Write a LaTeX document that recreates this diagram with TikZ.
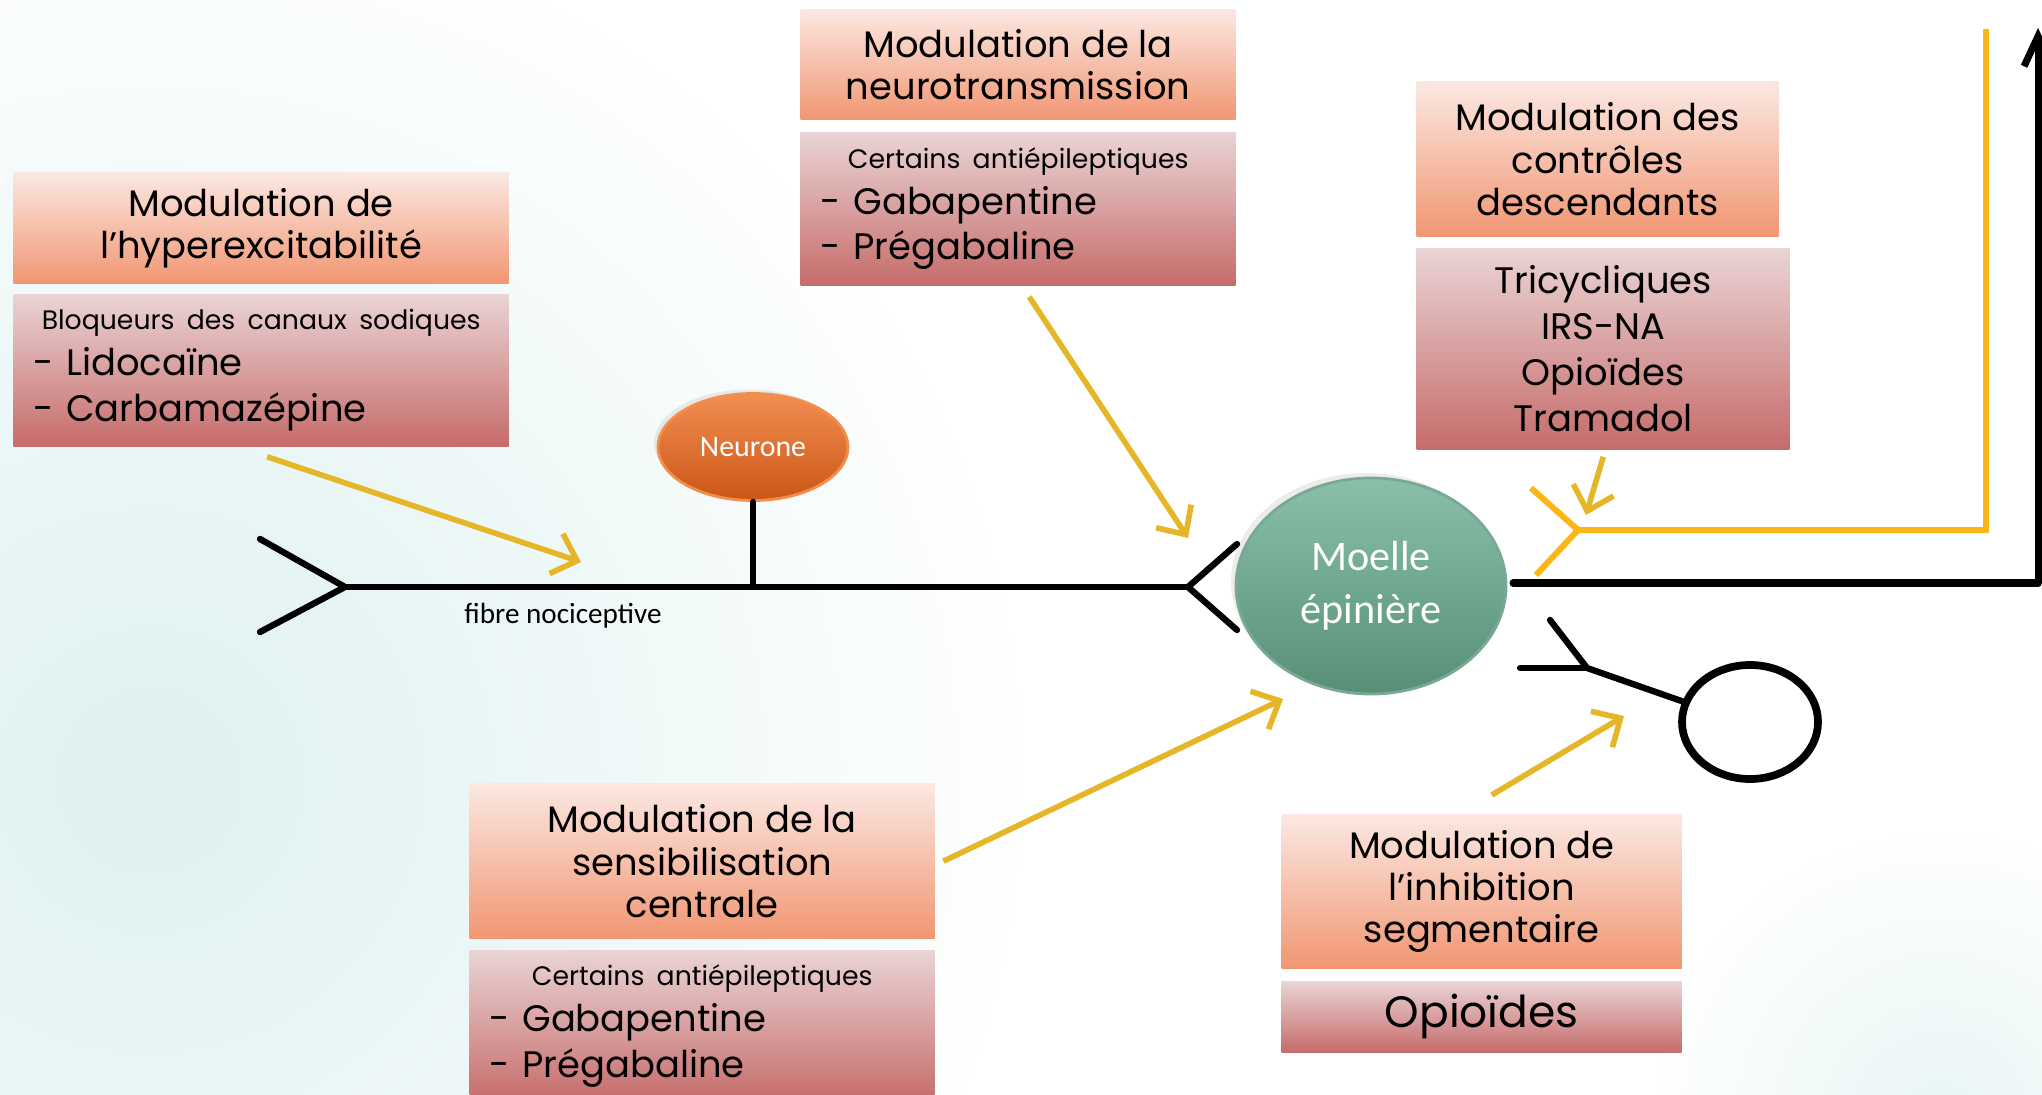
\documentclass[tikz,border=0pt]{standalone}
\usepackage{fontspec}
\newfontfamily\gothic{Poppins}
\newfontfamily\calib{Carlito}
\usetikzlibrary{arrows.meta, positioning, shapes.geometric, shadows}
\definecolor{hdtop}{RGB}{251,232,226}
\definecolor{hdbot}{RGB}{241,150,114}
\definecolor{drtop}{RGB}{234,212,213}
\definecolor{drbot}{RGB}{198,108,106}
\definecolor{yelarrow}{RGB}{229,183,40}
\definecolor{orangeline}{RGB}{252,182,20}
\definecolor{moelletop}{RGB}{138,192,170}
\definecolor{moellebot}{RGB}{86,143,118}
\definecolor{neurtop}{RGB}{242,142,82}
\definecolor{neurbot}{RGB}{202,86,22}
\definecolor{glow}{RGB}{222,240,240}
\newcommand{\headfont}{\gothic\fontsize{10.5}{12}\selectfont}
\newcommand{\drugfont}{\gothic\fontsize{10.5}{13}\selectfont}
\newcommand{\subfont}{\gothic\fontsize{7.6}{9}\selectfont}
\tikzset{
  head/.style={shade, top color=hdtop, bottom color=hdbot, inner sep=0pt,
    align=center, font=\headfont},
  drug/.style={shade, top color=drtop, bottom color=drbot, inner ysep=0pt,
    inner xsep=0.2cm, font=\drugfont},
  yarrow/.style={draw=yelarrow, line width=1.6pt,
    -{Straight Barb[length=2.2mm,width=4.2mm]}},
  fibre/.style={line width=1.8pt, line cap=round, line join=round},
}

\begin{document}
\begin{tikzpicture}
\useasboundingbox (0,0) rectangle (20.42,-10.95);
%background glow
\begin{scope}
\clip (0,0) rectangle (20.42,-10.95);
\shade[inner color=glow, outer color=white] (-7.5,1.2) rectangle (10.5,-16.8);
\shade[inner color=glow!70, outer color=white] (16.4,-8.2) rectangle (22.4,-14.2);
\end{scope}

%the boxes
\node[head, anchor=north west, minimum width=4.95cm, minimum height=1.11cm] (h1) at (0.13,-1.72)
  {Modulation de\\l’hyperexcitabilité};
\node[drug, below=0.09cm of h1, text width=4.55cm, minimum height=1.52cm, align=left] (b1)
  {\makebox[4.55cm]{\subfont Bloqueurs des canaux sodiques}\\- Lidocaïne\\- Carbamazépine};

\node[head, anchor=north west, minimum width=4.35cm, minimum height=1.10cm] (h2) at (8.00,-0.09)
  {Modulation de la\\neurotransmission};
\node[drug, below=0.11cm of h2, text width=3.95cm, minimum height=1.53cm, align=left] (b2)
  {\makebox[3.95cm]{\subfont Certains antiépileptiques}\\- Gabapentine\\- Prégabaline};

\node[head, anchor=north west, minimum width=3.62cm, minimum height=1.55cm] (h3) at (14.16,-0.81)
  {Modulation des\\contrôles\\descendants};
\node[drug, below=0.10cm of h3.south west, anchor=north west, text width=3.33cm,
  minimum height=2.01cm, align=center] (b3)
  {Tricycliques\\IRS-NA\\Opioïdes\\Tramadol};

\node[head, anchor=north west, minimum width=4.65cm, minimum height=1.55cm] (h4) at (4.69,-7.83)
  {Modulation de la\\sensibilisation\\centrale};
\node[drug, below=0.10cm of h4, text width=4.25cm, minimum height=1.52cm, align=left] (b4)
  {\makebox[4.25cm]{\subfont Certains antiépileptiques}\\- Gabapentine\\- Prégabaline};

\node[head, anchor=north west, minimum width=4.00cm, minimum height=1.54cm] (h5) at (12.81,-8.14)
  {Modulation de\\l’inhibition\\segmentaire};
\node[drug, below=0.11cm of h5, text width=3.60cm, minimum height=0.71cm, align=center,
  font=\gothic\fontsize{12.5}{14}\selectfont] (b5) {Opioïdes};

%neurone and spinal cord
\node[ellipse, draw=neurtop!90!orange, thick, top color=neurtop, bottom color=neurbot,
  minimum width=1.90cm, minimum height=1.07cm, text=white, font=\calib\fontsize{8.5}{10}\selectfont,
  drop shadow={opacity=0.15, shadow xshift=-0.4mm, shadow yshift=0.4mm}] (neur) at (7.53,-4.47) {Neurone};
\node[ellipse, draw=moelletop!80!black!60!moelletop, thick, top color=moelletop, bottom color=moellebot,
  minimum width=2.70cm, minimum height=2.16cm, text=white, align=center,
  font=\calib\fontsize{12}{15}\selectfont,
  drop shadow={opacity=0.15, shadow xshift=-0.5mm, shadow yshift=0.5mm}] (moelle) at (13.71,-5.86)
  {Moelle\\épinière};

%nociceptive fibre
\coordinate (forkL) at (3.45,-5.87);
\coordinate (forkR) at (11.88,-5.87);
\draw[fibre] (2.60,-5.39) -- (forkL) -- (2.60,-6.32);
\draw[fibre] (forkL) -- (forkR);
\draw[fibre] (12.37,-5.44) -- (forkR) -- (12.37,-6.30);
\draw[fibre] (neur.south) -- (neur.south |- forkL);
\node[font=\calib\fontsize{8.3}{10}\selectfont] (lab) at (5.63,-6.16) {fibre nociceptive};

%ascending pathway
\coordinate (up) at (20.38,-0.28);
\draw[fibre, line width=2pt, -{Straight Barb[length=3mm,width=2.8mm]}] (15.13,-5.83) -- (20.38,-5.83) -- (up);

%descending pathway
\coordinate (forkO) at (15.78,-5.30);
\draw[line width=1.7pt, draw=orangeline] (15.31,-4.88) -- (forkO) -- (15.36,-5.75);
\draw[line width=1.7pt, draw=orangeline] (forkO) -- (19.86,-5.30) -- (19.86,-0.29);

%interneurone
\node[ellipse, draw, line width=2.2pt, minimum width=1.36cm, minimum height=1.14cm] (ring) at (17.50,-7.22) {};
\coordinate (forkI) at (15.87,-6.68);
\draw[fibre] (15.20,-6.68) -- (forkI);
\draw[fibre] (15.50,-6.20) -- (forkI) -- (ring.163);

%yellow arrows
\coordinate (a1) at (5.81,-5.62);
\coordinate (a2) at (11.88,-5.38);
\coordinate (a3) at (15.86,-5.15);
\coordinate (a4) at (12.83,-6.99);
\coordinate (a5) at (16.24,-7.16);
\draw[yarrow] ([shift={(0.06,-0.10)}]b1.south) -- (a1);
\draw[yarrow] ([shift={(0.11,-0.11)}]b2.south) -- (a2);
\draw[yarrow] ([shift={(0.00,-0.07)}]b3.south) -- (a3);
\draw[yarrow] ([shift={(0.08,0.00)}]h4.east) -- (a4);
\draw[yarrow] ([shift={(0.10,0.19)}]h5.north) -- (a5);
\end{tikzpicture}
\end{document}
